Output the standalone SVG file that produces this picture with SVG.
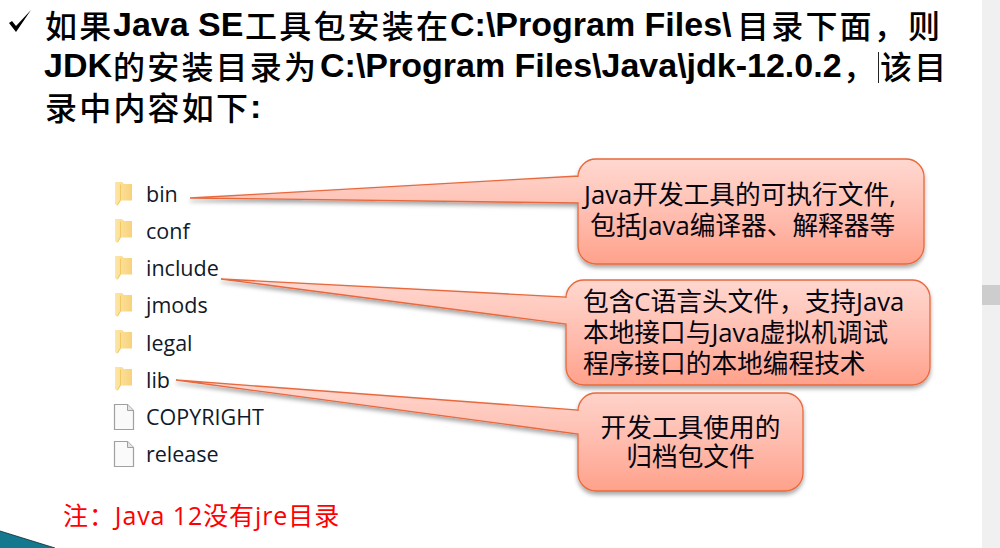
<svg xmlns="http://www.w3.org/2000/svg" width="1000" height="548" viewBox="0 0 1000 548">
<style>
.t{font-family:"Liberation Sans","Noto Sans CJK SC",sans-serif;font-size:34px;fill:#000}
.b{font-weight:700}
.c{font-family:"Noto Sans CJK SC",sans-serif;font-size:32px;font-weight:500;letter-spacing:2.2px}
.f{font-family:"Open Sans","Noto Sans",sans-serif;font-size:21.5px;fill:#101a2a}
.k{font-family:"Open Sans","Noto Sans CJK SC",sans-serif;font-size:25.700px;fill:#05050f}
.n{font-family:"Open Sans","Noto Sans CJK SC",sans-serif;font-size:25px;letter-spacing:.9px;fill:#f00}
.co{fill:url(#g);stroke:#e8693c;stroke-width:1.300;filter:url(#s)}
</style>
<defs>
<linearGradient id="g" x1="0" y1="0" x2="0" y2="1"><stop offset="0" stop-color="#ffd8d0"/><stop offset=".55" stop-color="#ffbcae"/><stop offset="1" stop-color="#ffa18b"/></linearGradient>
<linearGradient id="fo" x1="0" y1="0" x2="1" y2="0"><stop offset="0" stop-color="#fde6a8"/><stop offset="1" stop-color="#f7d27a"/></linearGradient>
<filter id="s" x="-5%" y="-10%" width="110%" height="125%"><feDropShadow dx="0" dy="3" stdDeviation="2.200" flood-color="#000" flood-opacity=".35"/></filter>
<g id="folder"><path d="M0 0h7l2 2h8v16.500H6L2 24 0 22z" fill="url(#fo)"/><path d="M5.500 2.500V18l-3 5" fill="none" stroke="#f2c860" stroke-width="1"/></g>
<g id="file"><path d="M.5.500h13l6 6v19H.5z" fill="#fafafa" stroke="#a0a0a0" stroke-width="1.200"/><path d="M13.500.500v6h6" fill="#e4e4e4" stroke="#a0a0a0"/></g>
</defs>
<rect width="1000" height="548" fill="#fff"/>
<rect x="982" width="18" height="548" fill="#f0f0f0"/>
<rect x="982" y="285" width="18" height="20" fill="#cdcdcd"/>
<path d="M0 531 55 548H0z" fill="#14798f"/><path d="M0 531 55 548" stroke="#0a2a33" stroke-width=".8" fill="none"/>

<g id="title">
<path d="M9 23l3-2 4 5L31 10 16 32z" fill="#000"/>
<text class="t"><tspan class="c" x="45" y="38">如果</tspan><tspan class="b" x="113" y="36">Java SE</tspan><tspan class="c" x="245" y="38">工具包安装在</tspan><tspan class="b" x="450" y="36">C:\Program Files\</tspan><tspan class="c" x="737" y="38">目录下面，则</tspan></text>
<text class="t"><tspan class="b" x="44" y="77">JDK</tspan><tspan class="c" x="113" y="79">的安装目录为</tspan><tspan class="b" x="320" y="77">C:\Program Files\Java\jdk-12.0.2</tspan><tspan class="c" x="843" y="79">，</tspan><tspan class="c" x="880" y="79">该目</tspan></text>
<text class="t"><tspan class="c" x="45" y="120">录中内容如下</tspan><tspan class="b" x="250" y="118">:</tspan></text>
<path d="M878.500 52v31" stroke="#222" stroke-width="1"/>
</g>

<g id="connectors"></g>

<g id="files">
<g id="n-bin"><use href="#folder" x="115" y="182"/><text class="f" x="146" y="202">bin</text></g>
<g id="n-conf"><use href="#folder" x="115" y="219"/><text class="f" x="146" y="239">conf</text></g>
<g id="n-include"><use href="#folder" x="115" y="256"/><text class="f" x="146" y="276">include</text></g>
<g id="n-jmods"><use href="#folder" x="115" y="293"/><text class="f" x="146" y="313">jmods</text></g>
<g id="n-legal"><use href="#folder" x="115" y="330"/><text class="f" x="146" y="350.500">legal</text></g>
<g id="n-lib"><use href="#folder" x="115" y="367"/><text class="f" x="146" y="387.500">lib</text></g>
<g id="n-copyright"><use href="#file" x="114" y="404"/><text class="f" x="146" y="425">COPYRIGHT</text></g>
<g id="n-release"><use href="#file" x="114" y="441"/><text class="f" x="146" y="462">release</text></g>
</g>

<g id="callout-bin"><path class="co" d="M190 198 578 176V177A18 18 0 0 1 596 159H906A18 18 0 0 1 924 177V246A18 18 0 0 1 906 264H596A18 18 0 0 1 578 246V203Z"/>
<text class="k" x="584" y="204">Java开发工具的可执行文件,</text><text class="k" x="590" y="235">包括Java编译器、解释器等</text></g>
<g id="callout-include"><path class="co" d="M221 279 566 297V298A18 18 0 0 1 584 280H912A18 18 0 0 1 930 298V367A18 18 0 0 1 912 385H584A18 18 0 0 1 566 367V324Z"/>
<text class="k" x="583" y="311">包含C语言头文件，支持Java</text><text class="k" x="583" y="342">本地接口与Java虚拟机调试</text><text class="k" x="583" y="373">程序接口的本地编程技术</text></g>
<g id="callout-lib"><path class="co" d="M176 380 578 410V411A18 18 0 0 1 596 393H785A18 18 0 0 1 803 411V473A18 18 0 0 1 785 491H596A18 18 0 0 1 578 473V434Z"/>
<text class="k" x="690.500" y="437" text-anchor="middle">开发工具使用的</text><text class="k" x="690.500" y="466" text-anchor="middle">归档包文件</text></g>

<text id="note" class="n" x="63" y="525">注：Java 12没有jre目录</text>
</svg>
